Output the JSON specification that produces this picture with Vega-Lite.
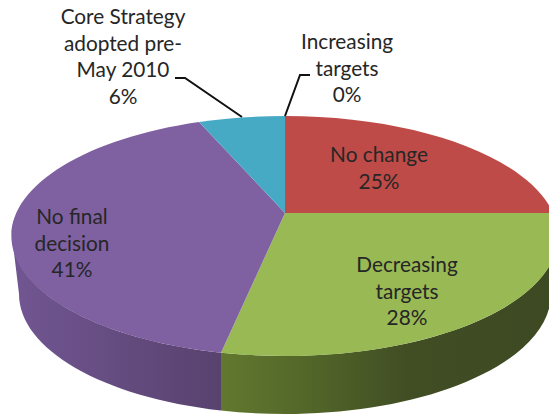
{
  "$schema": "https://vega.github.io/schema/vega-lite/v6.json",
  "width": 549,
  "height": 416,
  "padding": 0,
  "autosize": {"type": "none"},
  "background": "white",
  "config": {"view": {"stroke": null}},
  "data": {"values": [
    {"category": "No change", "value": 25, "label": "No change\n25%"},
    {"category": "Decreasing targets", "value": 28, "label": "Decreasing\ntargets\n28%"},
    {"category": "No final decision", "value": 41, "label": "No final\ndecision\n41%"},
    {"category": "Core Strategy adopted pre-May 2010", "value": 6, "label": "Core Strategy\nadopted pre-\nMay 2010\n6%"},
    {"category": "Increasing targets", "value": 0, "label": "Increasing\ntargets\n0%"}
  ]},
  "layer": [
    {
      "transform": [{"filter": "datum.category === 'No final decision'"}],
      "mark": {"type": "point", "clip": true, "filled": true, "opacity": 1, "size": 4, "strokeWidth": 0,
        "fill": {"gradient": "linear", "x1": 0, "x2": 1, "y1": 0, "y2": 0, "stops": [
          {"offset": 0, "color": "#715692"},
          {"offset": 0.5, "color": "#654c80"},
          {"offset": 1, "color": "#58426e"}]}},
      "encoding": {
        "shape": {"field": "category", "type": "nominal", "legend": null,
          "scale": {"domain": ["No final decision"], "range": ["M-262.5,28 A273,120 0 0 0 -53.5,144.7 L-53.5,202.5 A266,120 0 0 1 -255.5,86 Z"]}}
      }
    },
    {
      "transform": [{"filter": "datum.category === 'Decreasing targets'"}],
      "mark": {"type": "point", "clip": true, "filled": true, "opacity": 1, "size": 4, "strokeWidth": 0,
        "fill": {"gradient": "linear", "x1": 0, "x2": 1, "y1": 0, "y2": 0, "stops": [
          {"offset": 0, "color": "#62782f"},
          {"offset": 0.25, "color": "#536729"},
          {"offset": 0.55, "color": "#414e24"},
          {"offset": 1, "color": "#3d4922"}]}},
      "encoding": {
        "shape": {"field": "category", "type": "nominal", "legend": null,
          "scale": {"domain": ["Decreasing targets"], "range": ["M-53.5,144.7 A273,120 0 0 0 283.5,28 L276.5,86 A266,120 0 0 1 -53.5,202.5 Z"]}}
      }
    },
    {
      "transform": [{"filter": "datum.value > 0"}],
      "mark": {"type": "point", "clip": true, "filled": true, "opacity": 1, "size": 4, "strokeWidth": 0},
      "encoding": {
        "color": {"field": "category", "type": "nominal", "legend": null,
          "scale": {"domain": ["No change", "Decreasing targets", "No final decision", "Core Strategy adopted pre-May 2010"],
            "range": ["#be4b48", "#98b954", "#7f60a1", "#46aac4"]}},
        "shape": {"field": "category", "type": "nominal", "legend": null,
          "scale": {"domain": ["No change", "Decreasing targets", "No final decision", "Core Strategy adopted pre-May 2010"],
            "range": [
              "M10.5,5 L10.5,-92 A273,120 0 0 1 278.5,5 Z",
              "M10.5,5 L278.5,5 A273,120 0 0 1 -53.5,144.7 Z",
              "M10.5,5 L-53.5,144.7 A273,120 0 0 1 -75.5,-86 Z",
              "M10.5,5 L-75.5,-86 A273,120 0 0 1 10.5,-92 Z"]}}
      }
    },
    {
      "transform": [{"filter": "datum.value < 10"}],
      "mark": {"type": "point", "filled": false, "opacity": 1, "size": 4, "strokeWidth": 2, "color": "#111111"},
      "encoding": {
        "shape": {"field": "category", "type": "nominal", "legend": null,
          "scale": {"domain": ["Core Strategy adopted pre-May 2010", "Increasing targets"],
            "range": ["M-99.5,-130 L-89.5,-130 L-32.5,-91", "M10.5,-92 L25.5,-133 L35.5,-133"]}}
      }
    },
    {
      "mark": {"type": "text", "font": "Lato", "fontSize": 20.8, "lineHeight": 26.6, "lineBreak": "\n", "align": "center", "baseline": "middle", "color": "#262626",
        "dx": {"expr": "{'No change':104.5,'Decreasing targets':132.5,'No final decision':-202.5,'Core Strategy adopted pre-May 2010':-151.5,'Increasing targets':72.5}[datum.category]"},
        "dy": {"expr": "{'No change':-52,'Decreasing targets':58,'No final decision':10,'Core Strategy adopted pre-May 2010':-190,'Increasing targets':-165}[datum.category]"}},
      "encoding": {"text": {"field": "label", "type": "nominal"}}
    }
  ],
  "resolve": {"scale": {"shape": "independent", "color": "independent"}}
}
